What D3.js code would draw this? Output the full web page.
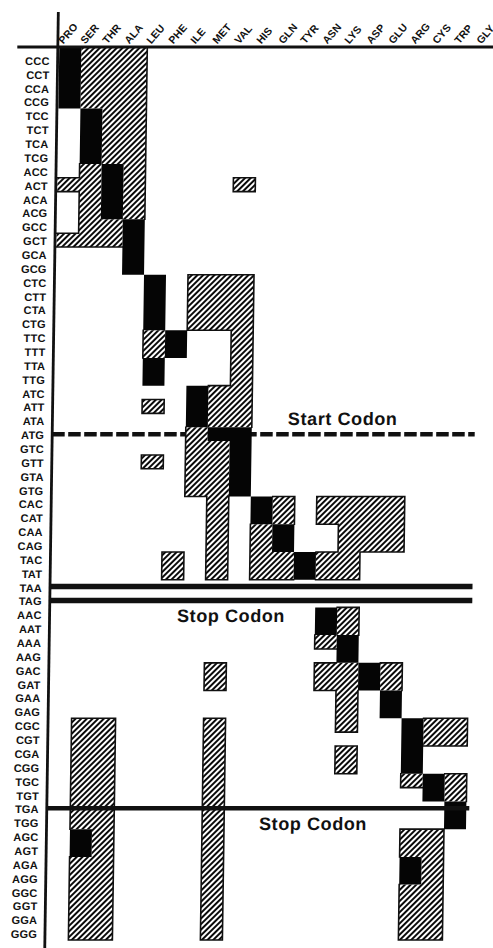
<!DOCTYPE html>
<html><head><meta charset="utf-8">
<script src="https://cdn.jsdelivr.net/npm/d3@7"></script>
<style>
html,body{margin:0;padding:0;background:#fff;}
svg{display:block;}
text{font-family:"Liberation Sans",Arial,Helvetica,sans-serif;font-weight:bold;fill:#111;}
</style></head><body>
<svg id="chart" width="493" height="948"></svg>
<script>
// ---------- data ----------
const codons = ["CCC","CCT","CCA","CCG","TCC","TCT","TCA","TCG","ACC","ACT","ACA","ACG","GCC","GCT","GCA","GCG",
  "CTC","CTT","CTA","CTG","TTC","TTT","TTA","TTG","ATC","ATT","ATA","ATG","GTC","GTT","GTA","GTG",
  "CAC","CAT","CAA","CAG","TAC","TAT","TAA","TAG","AAC","AAT","AAA","AAG","GAC","GAT","GAA","GAG",
  "CGC","CGT","CGA","CGG","TGC","TGT","TGA","TGG","AGC","AGT","AGA","AGG","GGC","GGT","GGA","GGG"];
const aminoAcids = ["PRO","SER","THR","ALA","LEU","PHE","ILE","MET","VAL","HIS","GLN","TYR","ASN","LYS","ASP","GLU","ARG","CYS","TRP","GLY"];

// black cells: codons assigned to each amino acid
const codingCells = [
  ["PRO", ["CCC","CCT","CCA","CCG"]],
  ["SER", ["TCC","TCT","TCA","TCG","AGC","AGT"]],
  ["THR", ["ACC","ACT","ACA","ACG"]],
  ["ALA", ["GCC","GCT","GCA","GCG"]],
  ["LEU", ["CTC","CTT","CTA","CTG","TTA","TTG"]],
  ["PHE", ["TTC","TTT"]],
  ["ILE", ["ATC","ATT","ATA"]],
  ["MET", ["ATG"]],
  ["VAL", ["ATG","GTC","GTT","GTA","GTG"]],
  ["HIS", ["CAC","CAT"]],
  ["GLN", ["CAA","CAG"]],
  ["TYR", ["TAC","TAT"]],
  ["ASN", ["AAC","AAT"]],
  ["LYS", ["AAA","AAG"]],
  ["ASP", ["GAC","GAT"]],
  ["GLU", ["GAA","GAG"]],
  ["ARG", ["CGC","CGT","CGA","CGG","AGA","AGG"]],
  ["CYS", ["TGC","TGT"]],
  ["TRP", ["TGA","TGG"]],
  ["GLY", []]
];

// hatched cells
const hatchedCells = [
  ["PRO", ["ACT","GCT"]],
  ["SER", ["CCC","CCT","CCA","CCG","ACC","ACT","ACA","ACG","GCC","GCT",
           "CGC","CGT","CGA","CGG","TGC","TGT","TGA","TGG","AGA","AGG","GGC","GGT","GGA","GGG"]],
  ["THR", ["CCC","CCT","CCA","CCG","TCC","TCT","TCA","TCG","GCC","GCT",
           "CGC","CGT","CGA","CGG","TGC","TGT","TGA","TGG","AGC","AGT","AGA","AGG","GGC","GGT","GGA","GGG"]],
  ["ALA", ["CCC","CCT","CCA","CCG","TCC","TCT","TCA","TCG","ACC","ACT","ACA","ACG"]],
  ["LEU", ["TTC","TTT","ATT","GTT"]],
  ["PHE", ["TAC","TAT"]],
  ["ILE", ["CTC","CTT","CTA","CTG","ATG","GTC","GTT","GTA","GTG"]],
  ["MET", ["CTC","CTT","CTA","CTG","ATC","ATT","ATA","GTC","GTT","GTA","GTG","CAC","CAT","CAA","CAG","TAC","TAT",
           "GAC","GAT","CGC","CGT","CGA","CGG","TGC","TGT","TGA","TGG","AGC","AGT","AGA","AGG","GGC","GGT","GGA","GGG"]],
  ["VAL", ["ACT","CTC","CTT","CTA","CTG","TTC","TTT","TTA","TTG","ATC","ATT","ATA"]],
  ["HIS", ["CAA","CAG","TAC","TAT"]],
  ["GLN", ["CAC","CAT","TAC","TAT"]],
  ["TYR", []],
  ["ASN", ["CAC","CAT","TAC","TAT","AAA","GAC","GAT"]],
  ["LYS", ["CAC","CAT","CAA","CAG","TAC","TAT","AAC","AAT","GAC","GAT","GAA","GAG","CGC","CGA","CGG"]],
  ["ASP", ["CAC","CAT","CAA","CAG"]],
  ["GLU", ["CAC","CAT","CAA","CAG","GAC","GAT"]],
  ["ARG", ["TGC","AGC","AGT","GGC","GGT","GGA","GGG"]],
  ["CYS", ["CGC","CGT","AGC","AGT","AGA","AGG","GGC","GGT","GGA","GGG"]],
  ["TRP", ["CGC","CGT","TGC","TGT"]],
  ["GLY", []]
];

const markerRows   = ["ATG","TAA","TAG","TGA"];
const markerStyles = ["dashed","solid","solid","solid"];
const annotationTexts = ["Start Codon","Stop Codon","Stop Codon"];
const annotationRows  = ["ATG","TAG","TGA"];
const annotationCols  = ["GLN","PHE","HIS"];

// ---------- layout ----------
const svg = d3.select("#chart");
const defs = svg.append("defs");
const pat = defs.append("pattern").attr("id","hatch").attr("patternUnits","userSpaceOnUse")
  .attr("width",4.0).attr("height",10).attr("patternTransform","rotate(45)");
pat.append("rect").attr("width",4.0).attr("height",10).attr("fill","#fff");
pat.append("rect").attr("width",2.0).attr("height",10).attr("fill","#0a0a0a");

// the scanned original is slightly sheared
const g = svg.append("g").attr("transform","skewX(-0.83)");

const x = d3.scaleBand().domain(aminoAcids).range([60, 60 + 22*aminoAcids.length]);
const y = d3.scaleBand().domain(codons).range([53, 53 + 13.86*codons.length]);
const axisY = 47, axisX = 58.5;
const lineEnd = x("GLY") + 3;

const state = new Map();
hatchedCells.forEach(([aa, list]) => list.forEach(c => state.set(c+"|"+aa, "h")));
codingCells.forEach(([aa, list]) => list.forEach(c => state.set(c+"|"+aa, "b")));

function rectOf(codon, aa){
  const i = codons.indexOf(codon);
  const x0 = x(aa), x1 = x0 + x.bandwidth();
  const y0 = i === 0 ? axisY : y(codon), y1 = y(codon) + y.bandwidth();
  return [x0,y0,x1,y1];
}
function cellsPath(type){
  let p = "";
  state.forEach((v,k) => {
    if (v !== type) return;
    const [c,aa] = k.split("|");
    const [x0,y0,x1,y1] = rectOf(c,aa);
    p += `M${x0},${y0}H${x1}V${y1}H${x0}Z`;
  });
  return p;
}
function isEmpty(i,j){
  if (i<0 || j<0 || i>=codons.length || j>=aminoAcids.length) return true;
  return !state.has(codons[i]+"|"+aminoAcids[j]);
}
let edges = "";
state.forEach((v,k) => {
  if (v !== "h") return;
  const [c,aa] = k.split("|");
  const i = codons.indexOf(c), j = aminoAcids.indexOf(aa);
  const [x0,y0,x1,y1] = rectOf(c,aa);
  if (i>0 && isEmpty(i-1,j)) edges += `M${x0},${y0}H${x1}`;
  if (isEmpty(i+1,j)) edges += `M${x0},${y1}H${x1}`;
  if (j>0 && isEmpty(i,j-1)) edges += `M${x0},${y0}V${y1}`;
  if (isEmpty(i,j+1)) edges += `M${x1},${y0}V${y1}`;
});

const rowMid = c => y(c) + y.bandwidth()/2;

// dashed start line (below cells)
markerRows.forEach((r,k) => {
  if (markerStyles[k] !== "dashed") return;
  g.append("line").attr("x1",axisX).attr("x2",lineEnd).attr("y1",rowMid(r)).attr("y2",rowMid(r))
    .attr("stroke","#111").attr("stroke-width",4.5).attr("stroke-dasharray","12.5,3.5");
});

g.append("path").attr("d", cellsPath("h")).attr("fill","url(#hatch)");
g.append("path").attr("d", edges).attr("fill","none").attr("stroke","#111").attr("stroke-width",1.6).attr("stroke-linecap","square");
g.append("path").attr("d", cellsPath("b")).attr("fill","#050505");

// solid stop lines
markerRows.forEach((r,k) => {
  if (markerStyles[k] !== "solid") return;
  g.append("line").attr("x1",axisX).attr("x2",lineEnd).attr("y1",rowMid(r)).attr("y2",rowMid(r))
    .attr("stroke","#111").attr("stroke-width", r === "TGA" ? 4.5 : 5.5);
});

// axes
g.append("line").attr("x1",18).attr("x2",505).attr("y1",axisY).attr("y2",axisY).attr("stroke","#111").attr("stroke-width",3);
g.append("line").attr("x1",axisX).attr("x2",axisX).attr("y1",12).attr("y2",950).attr("stroke","#111").attr("stroke-width",2.8);

// row labels
g.selectAll("text.row").data(codons).join("text").attr("class","row")
  .attr("x",50.5).attr("y", d => rowMid(d) + 5)
  .attr("text-anchor","end").attr("font-size",11).attr("letter-spacing",0.2).text(d => d);

// column labels
g.selectAll("text.col").data(aminoAcids).join("text").attr("class","col")
  .attr("transform", d => `translate(${x(d)+4},44.5) rotate(-50)`)
  .attr("font-size",10.5).text(d => d);

// annotations
const annDx = [14,16,13], annDy = [-9, 21.5, 21.6];
annotationTexts.forEach((t,k) => {
  g.append("text").attr("x", x(annotationCols[k]) + annDx[k]).attr("y", rowMid(annotationRows[k]) + annDy[k])
    .attr("font-size",18).attr("letter-spacing",0.6).text(t);
});
</script>
</body></html>
